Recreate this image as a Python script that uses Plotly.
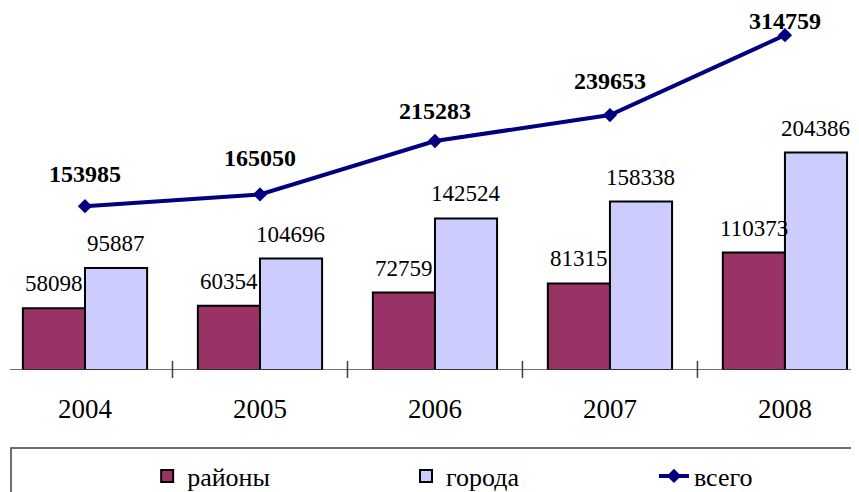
"""Районы / города / всего, 2004-2008."""

import plotly.graph_objects as go

years = ["2004", "2005", "2006", "2007", "2008"]
rayony = [58098, 60354, 72759, 81315, 110373]
goroda = [95887, 104696, 142524, 158338, 204386]
vsego = [153985, 165050, 215283, 239653, 314759]

SERIF = "Liberation Serif, Times New Roman, serif"
LEG_FONT = dict(family=SERIF, size=26, color="black")

fig = go.Figure()
fig.add_trace(go.Bar(
    x=years, y=rayony, name="районы", legend="legend",
    marker=dict(color="#993366", line=dict(color="black", width=2)),
))
fig.add_trace(go.Bar(
    x=years, y=goroda, name="города", legend="legend2",
    marker=dict(color="#CCCCFF", line=dict(color="black", width=2)),
))
fig.add_trace(go.Scatter(
    x=years, y=vsego, name="всего", mode="lines+markers", legend="legend3",
    line=dict(color="#000080", width=4),
    marker=dict(symbol="diamond", size=11, color="#000080"),
))

# value labels (category index used as x so "2004" isn't read as a number)
for i in range(len(years)):
    fig.add_annotation(x=i, y=rayony[i], text=str(rayony[i]), showarrow=False,
                       xshift=-31, yshift=10, yanchor="bottom",
                       font=dict(family=SERIF, size=23, color="black"))
    fig.add_annotation(x=i, y=goroda[i], text=str(goroda[i]), showarrow=False,
                       xshift=31, yshift=10, yanchor="bottom",
                       font=dict(family=SERIF, size=23, color="black"))
line_shift = [32, 36, 30, 34, 14]
for i in range(len(years)):
    fig.add_annotation(x=i, y=vsego[i], text="<b>%d</b>" % vsego[i], showarrow=False,
                       yshift=line_shift[i],
                       font=dict(family=SERIF, size=24, color="black"))

# axis line and cross ticks between categories
fig.add_shape(type="line", xref="x", yref="y", x0=-0.43, x1=4.5, y0=0, y1=0,
              line=dict(color="#404040", width=1.5))
for k in range(len(years) - 1):
    fig.add_shape(type="line", xref="x", yref="paper", x0=k + 0.5, x1=k + 0.5,
                  y0=-0.022, y1=0.025, line=dict(color="#404040", width=1.5))

# legend frame
fig.add_shape(type="rect", xref="paper", yref="paper", x0=0.0035, x1=1.05,
              y0=-0.2155, y1=-0.7, line=dict(color="#404040", width=1.5))

leg_common = dict(orientation="h", xanchor="left", y=-0.293, yanchor="middle",
                  font=LEG_FONT, bgcolor="rgba(0,0,0,0)")

fig.update_layout(
    width=859, height=492,
    margin=dict(l=0, r=0, t=0, b=130, autoexpand=False),
    paper_bgcolor="white", plot_bgcolor="white",
    barmode="group", bargap=0.29, bargroupgap=0,
    showlegend=True,
    legend=dict(x=0.162, **leg_common),
    legend2=dict(x=0.4633, **leg_common),
    legend3=dict(x=0.752, **leg_common),
    xaxis=dict(type="category", range=[-0.44, 4.469], showgrid=False, showline=False,
               zeroline=False, ticks="", ticklabelstandoff=20,
               tickfont=dict(family=SERIF, size=27, color="black")),
    yaxis=dict(range=[0, 340280], visible=False, showgrid=False),
)

fig.write_html("out.html")
